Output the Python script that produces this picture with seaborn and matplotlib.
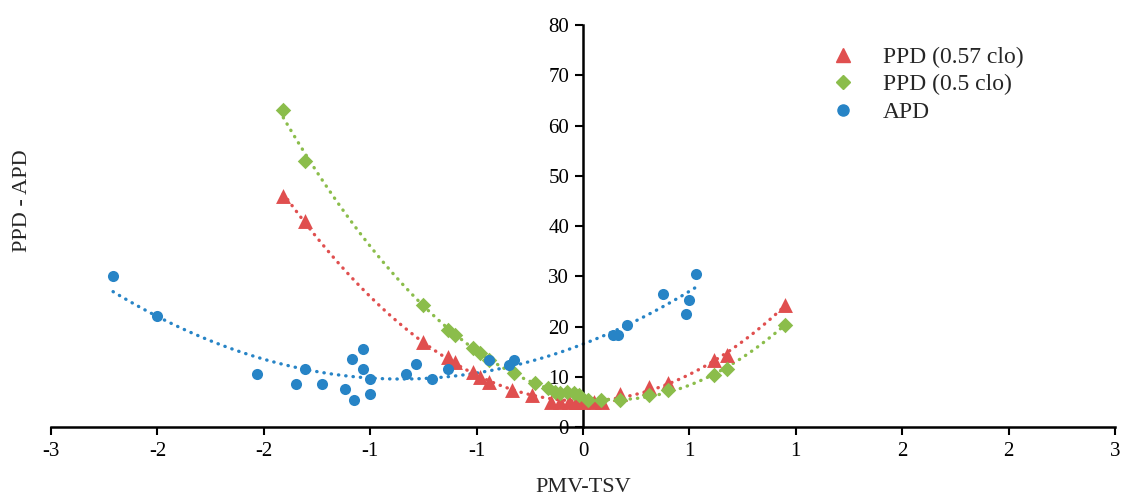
import numpy as np
import pandas as pd
import matplotlib
matplotlib.use("Agg")
import matplotlib.pyplot as plt
from matplotlib.lines import Line2D
import seaborn as sns

sns.set_style("white")
plt.rcParams["font.family"] = ["Liberation Serif", "DejaVu Serif"]

# === Data ===
PPD57_X = [-1.69, -1.57, -0.90, -0.76, -0.72, -0.62, -0.58, -0.53, -0.40, -0.29,
           -0.18, -0.13, -0.08, -0.04, 0.00, 0.06, 0.11, 0.21, 0.37, 0.48,
           0.74, 0.81, 1.14]
PPD57_Y = [46, 41, 17, 14, 13, 11, 10, 9, 7.4, 6.4,
           5, 5, 5, 5, 5, 5, 5, 6.6, 7.9, 8.7,
           13.3, 14.3, 24.3]

PPD50_X = [-1.69, -1.57, -0.90, -0.76, -0.72, -0.62, -0.58, -0.53, -0.39, -0.27,
           -0.20, -0.16, -0.13, -0.09, -0.05, -0.02, 0.03, 0.10, 0.21, 0.37,
           0.48, 0.74, 0.81, 1.14]
PPD50_Y = [63, 53, 24.3, 19.4, 18.4, 15.7, 14.7, 13.3, 10.7, 8.7,
           7.7, 7.0, 6.7, 7.0, 6.7, 6.4, 5.4, 5.4, 5.4, 6.4,
           7.4, 10.3, 11.5, 20.4]

APD_X = [-2.65, -2.40, -1.84, -1.62, -1.57, -1.47, -1.34, -1.30, -1.29, -1.24,
         -1.24, -1.20, -1.20, -1.00, -0.94, -0.85, -0.76, -0.53, -0.42, -0.39,
         0.17, 0.20, 0.25, 0.45, 0.58, 0.60, 0.64]
APD_Y = [30, 22, 10.5, 8.5, 11.5, 8.5, 7.5, 13.5, 5.4, 15.5,
         11.5, 9.5, 6.5, 10.5, 12.5, 9.5, 11.5, 13.3, 12.3, 13.3,
         18.4, 18.4, 20.4, 26.4, 22.4, 25.3, 30.4]

SERIES = ["PPD (0.57 clo)", "PPD (0.5 clo)", "APD"]
COLORS = ["#E04F4F", "#8BBD4B", "#2784C6"]
MARKERS = ["^", "D", "o"]
SIZES = [115, 62, 64]

XTICKS = np.linspace(-3, 3, 11)
XTICK_LABELS = ["-3", "-2", "-2", "-1", "-1", "0", "1", "1", "2", "2", "3"]
YTICKS = [0, 10, 20, 30, 40, 50, 60, 70, 80]

frames = [
    pd.DataFrame({"x": PPD57_X, "y": PPD57_Y, "series": SERIES[0]}),
    pd.DataFrame({"x": PPD50_X, "y": PPD50_Y, "series": SERIES[1]}),
    pd.DataFrame({"x": APD_X, "y": APD_Y, "series": SERIES[2]}),
]

fig = plt.figure(figsize=(11.26, 4.97), dpi=100)
ax = fig.add_axes([0.0453, 0.1408, 0.9449, 0.8089])

# dotted quadratic trend lines
for df, col in zip(frames, COLORS):
    sns.regplot(data=df, x="x", y="y", order=2, ci=None, scatter=False, ax=ax,
                line_kws={"color": col, "linewidth": 2.4,
                          "linestyle": (0, (0.1, 2.1)),
                          "dash_capstyle": "round", "zorder": 2})

# markers
for df, col, mk, sz in zip(frames, COLORS, MARKERS, SIZES):
    sns.scatterplot(data=df, x="x", y="y", color=col, marker=mk, s=sz,
                    linewidth=0, ax=ax, zorder=3)

ax.set_xlim(-3, 3)
ax.set_ylim(0, 80)
ax.set_xticks(XTICKS)
ax.set_xticklabels(XTICK_LABELS)
ax.set_yticks(YTICKS)

ax.spines["top"].set_visible(False)
ax.spines["right"].set_visible(False)
ax.spines["left"].set_position(("data", 0))
for sp in ["left", "bottom"]:
    ax.spines[sp].set_linewidth(1.8)
    ax.spines[sp].set_color("black")
ax.tick_params(axis="both", direction="out", length=6, width=1.5,
               labelsize=15, colors="black", bottom=True, left=True)
ax.tick_params(axis="x", pad=5)
ax.tick_params(axis="y", pad=4)

ax.set_xlabel("PMV-TSV", fontsize=16, labelpad=12)
ax.set_ylabel("PPD - APD", fontsize=16)
ax.yaxis.set_label_coords(-0.018, 0.562)

handles = [Line2D([], [], linestyle="none", marker=mk, color=col,
                  markersize=ms)
           for mk, col, ms in zip(MARKERS, COLORS, [10.5, 7.5, 8])]
ax.legend(handles, SERIES, loc="upper left", bbox_to_anchor=(0.724, 0.97),
          frameon=False, fontsize=17, handletextpad=1.2, labelspacing=0.25,
          handlelength=1.0, borderaxespad=0)

fig.savefig("out.png", dpi=100)
